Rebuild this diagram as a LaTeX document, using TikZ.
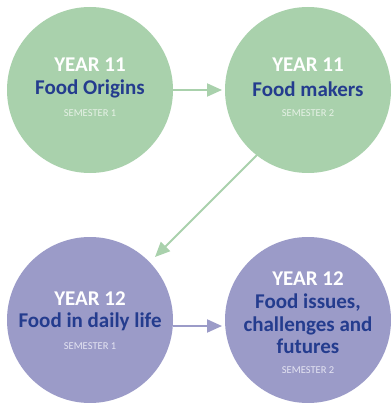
\documentclass[tikz,border=0pt]{standalone}
\usepackage{fontspec}
\setmainfont{Carlito}
\usetikzlibrary{arrows.meta}
\definecolor{cgreen}{HTML}{A9D1AC}
\definecolor{cpurple}{HTML}{9B9BC8}
\definecolor{ctext}{HTML}{243C8E}
\definecolor{csemg}{HTML}{E6F1E6}
\definecolor{csemp}{HTML}{E4E4F2}
\begin{document}
\begin{tikzpicture}[x=1pt,y=-1pt,
  circ/.style={circle,minimum size=166pt,inner sep=0pt},
  year/.style={font=\fontsize{21}{21}\selectfont\bfseries,text=white},
  title/.style={font=\fontsize{21}{22.5}\selectfont\bfseries,text=ctext,align=center},
  sem/.style={font=\fontsize{10.5}{11}\selectfont},
  conn/.style={line width=2pt,-{Triangle[length=15pt,width=13pt]}}]
\useasboundingbox (0,0) rectangle (390,403);
\node[circ,fill=cgreen] (c1) at (90,90) {};
\node[circ,fill=cgreen] (c2) at (308,90) {};
\node[circ,fill=cpurple] (c3) at (90,320) {};
\node[circ,fill=cpurple] (c4) at (308,320) {};
% texts
\node[year] (y1) at (90,65) {YEAR 11};
\node[title] (t1) at (90,89) {Food Origins};
\node[sem,text=csemg] (s1) at (90,113) {SEMESTER 1};
\node[year] (y2) at (308,65) {YEAR 11};
\node[title] (t2) at (308,89) {Food makers};
\node[sem,text=csemg] (s2) at (308,113) {SEMESTER 2};
\node[year] (y3) at (90,299) {YEAR 12};
\node[title] (t3) at (90,322) {Food in daily life};
\node[sem,text=csemp] (s3) at (90,346) {SEMESTER 1};
\node[year] (y4) at (308,279) {YEAR 12};
\node[title] (t4) at (308,324) {Food issues,\\challenges and\\futures};
\node[sem,text=csemp] (s4) at (308,370) {SEMESTER 2};
% connectors
\coordinate (a1s) at (173,90);
\coordinate (a1e) at (222,90);
\coordinate (a2s) at (258,154);
\coordinate (a2e) at (155,257);
\coordinate (a3s) at (173,326);
\coordinate (a3e) at (222,326);
\draw[conn,cgreen] (a1s) -- (a1e);
\draw[conn,cgreen] (a2s) -- (a2e);
\draw[conn,cpurple] (a3s) -- (a3e);
\end{tikzpicture}
\end{document}
